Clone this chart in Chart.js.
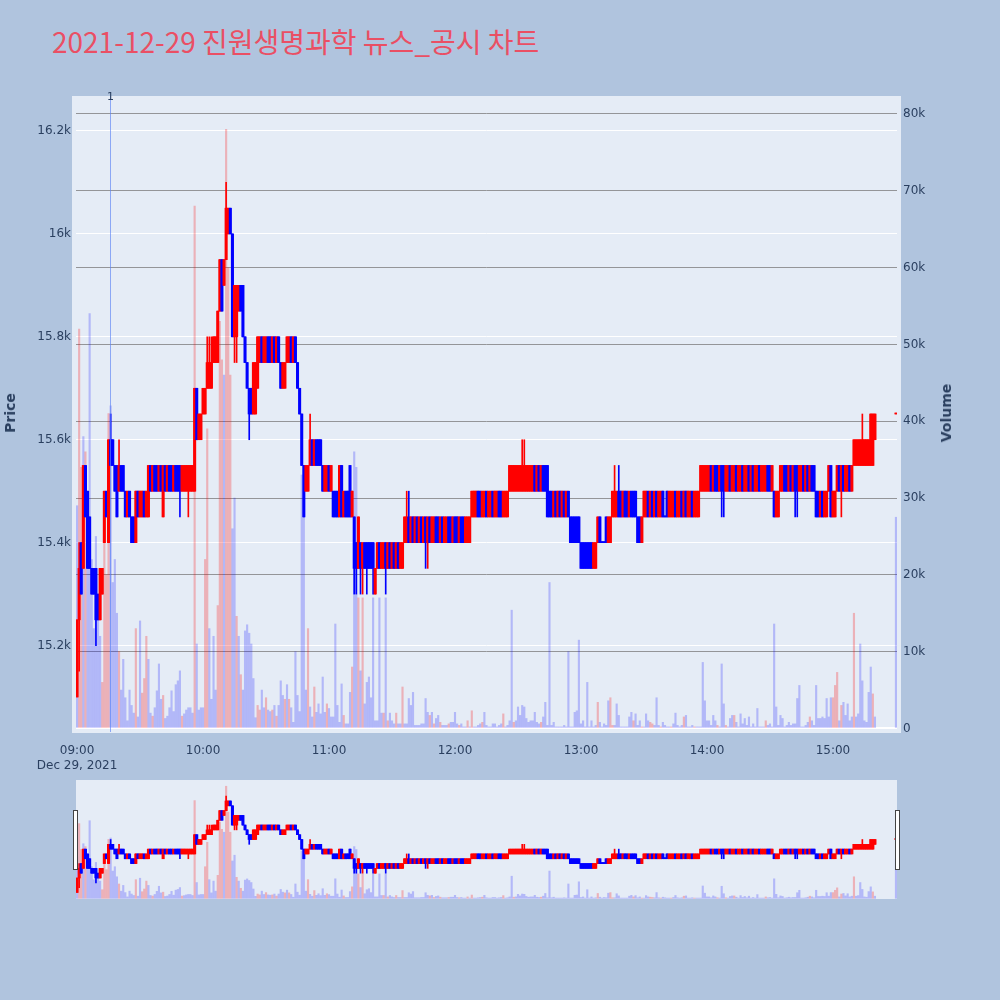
<!DOCTYPE html>
<html>
<head>
<meta charset="utf-8">
<script src="https://cdn.jsdelivr.net/npm/chart.js@4.4.1/dist/chart.umd.min.js"></script>
<style>
  body { margin: 0; width: 1000px; height: 1000px; background: #b0c4de; position: relative; overflow: hidden; }
  #title { position: absolute; left: 52px; top: 27px; font: 28px/28px "Noto Sans CJK KR", sans-serif; color: #ea4f64; white-space: nowrap; }
  #main { position: absolute; left: 0; top: 0; }
  #slider { position: absolute; left: 76px; top: 780px; background: #e5ecf6; }
  .axis-title { position: absolute; font: bold 14px/14px "DejaVu Sans", sans-serif; color: #2a3f5f; transform: translate(-50%, -50%) rotate(-90deg); white-space: nowrap; }
  .handle { position: absolute; top: 810px; width: 3px; height: 58px; background: #fff; border: 1px solid #444; }
</style>
</head>
<body>
<div id="title">2021-12-29 진원생명과학 뉴스_공시 차트</div>
<canvas id="main" width="1000" height="770"></canvas>
<div class="axis-title" style="left:10px; top:413px;">Price</div>
<div class="axis-title" style="left:946px; top:413px;">Volume</div>
<canvas id="slider" width="821" height="119"></canvas>
<div class="handle" style="left:73px;"></div>
<div class="handle" style="left:895px;"></div>
<script>
// 1분봉 (09:00 = 0분 ... 15:30 = 390분)
const opens = [
  15100,15250,15400,15350,15550,15500,15450,15350,15350,15350,
  15300,15250,15300,15400,15500,15400,15600,15600,15550,15550,
  15500,15550,15550,15500,15450,15500,15450,15450,15400,15500,
  15450,15450,15500,15450,15450,15550,15500,15550,15550,15500,
  15550,15450,15550,15500,15550,15550,15500,15550,15550,15550,
  15500,15500,15500,15500,15500,15500,15500,15700,15600,15600,
  15650,15650,15700,15700,15700,15750,15750,15750,15850,15950,
  15900,15950,16000,16050,16000,15800,15800,15850,15900,15900,
  15800,15750,15700,15700,15650,15650,15700,15750,15800,15750,
  15750,15800,15800,15750,15800,15750,15800,15750,15700,15700,
  15750,15750,15800,15750,15800,15750,15700,15650,15550,15500,
  15500,15550,15600,15550,15600,15600,15600,15550,15500,15500,
  15550,15500,15500,15500,15500,15450,15550,15450,15500,15500,
  15550,15450,15450,15400,15350,15400,15350,15400,15400,15400,
  15400,15400,15300,15350,15400,15350,15350,15400,15350,15400,
  15350,15400,15350,15400,15350,15350,15400,15400,15450,15400,
  15450,15400,15450,15400,15450,15400,15450,15400,15450,15400,
  15400,15450,15450,15400,15450,15400,15400,15450,15450,15400,
  15450,15450,15400,15450,15450,15400,15400,15400,15450,15450,
  15450,15500,15500,15450,15450,15500,15450,15450,15500,15450,
  15450,15500,15500,15450,15450,15450,15500,15500,15500,15500,
  15500,15500,15500,15500,15500,15500,15500,15500,15550,15500,
  15550,15500,15550,15550,15550,15500,15500,15450,15500,15450,
  15500,15450,15500,15450,15500,15450,15450,15450,15450,15450,
  15400,15400,15400,15400,15400,15400,15350,15350,15400,15450,
  15400,15400,15450,15400,15400,15450,15450,15450,15500,15500,
  15450,15500,15500,15450,15500,15500,15500,15450,15450,15400,
  15450,15450,15500,15450,15500,15450,15500,15450,15450,15500,
  15450,15500,15450,15450,15450,15500,15450,15450,15500,15450,
  15500,15450,15450,15500,15450,15450,15450,15500,15500,15500,
  15500,15500,15550,15500,15550,15550,15500,15550,15550,15500,
  15500,15550,15500,15500,15550,15500,15500,15550,15500,15500,
  15550,15500,15550,15500,15500,15550,15500,15500,15500,15550,
  15550,15500,15500,15450,15450,15500,15500,15550,15550,15500,
  15550,15500,15550,15550,15500,15500,15550,15500,15550,15500,
  15550,15550,15500,15500,15450,15500,15450,15450,15500,15550,
  15450,15450,15500,15550,15500,15550,15500,15500,15550,15500,
  15550,15550,15550,15550,15550,15550,15550,15550,15550,15550,
  15600,null,null,null,null,null,null,null,null,null,
  15650
];
const closes = [
  15250,15350,15300,15550,15450,15350,15350,15300,15300,15250,
  15250,15350,15350,15500,15450,15600,15550,15550,15500,15450,
  15550,15500,15500,15450,15500,15450,15400,15400,15500,15450,
  15500,15500,15450,15500,15550,15500,15550,15500,15500,15550,
  15500,15550,15500,15550,15500,15500,15550,15500,15500,15500,
  15550,15550,15550,15550,15550,15550,15700,15600,15650,15650,
  15700,15700,15750,15750,15750,15800,15800,15850,15950,15850,
  15950,16050,16050,16000,15800,15900,15900,15900,15850,15800,
  15750,15700,15650,15650,15750,15750,15800,15800,15750,15800,
  15800,15750,15750,15800,15750,15800,15750,15700,15750,15750,
  15800,15800,15750,15800,15750,15700,15650,15550,15450,15550,
  15550,15600,15550,15600,15550,15550,15550,15500,15550,15550,
  15500,15550,15450,15450,15450,15550,15450,15500,15450,15450,
  15450,15500,15350,15350,15450,15350,15400,15350,15350,15350,
  15350,15350,15350,15400,15350,15400,15400,15350,15400,15350,
  15400,15350,15400,15350,15400,15400,15450,15450,15400,15450,
  15400,15450,15400,15450,15400,15450,15400,15450,15400,15450,
  15450,15400,15400,15450,15400,15450,15450,15400,15400,15450,
  15400,15400,15450,15400,15400,15450,15450,15450,15500,15500,
  15500,15450,15450,15500,15500,15450,15500,15500,15450,15500,
  15500,15450,15450,15500,15500,15500,15550,15550,15550,15550,
  15550,15550,15550,15550,15550,15550,15550,15550,15500,15550,
  15500,15550,15500,15500,15450,15450,15450,15500,15450,15500,
  15450,15500,15450,15500,15450,15400,15400,15400,15400,15400,
  15350,15350,15350,15350,15350,15350,15400,15400,15450,15400,
  15400,15400,15400,15450,15450,15500,15500,15500,15450,15450,
  15500,15450,15450,15500,15450,15450,15450,15400,15400,15450,
  15500,15500,15450,15500,15450,15500,15450,15500,15500,15450,
  15450,15450,15500,15500,15500,15450,15500,15500,15450,15500,
  15450,15500,15500,15450,15500,15500,15500,15550,15550,15550,
  15550,15550,15500,15550,15500,15500,15550,15500,15500,15550,
  15550,15500,15550,15550,15500,15550,15550,15500,15550,15550,
  15500,15550,15500,15550,15550,15500,15550,15550,15550,15500,
  15500,15550,15450,15500,15500,15550,15550,15500,15500,15550,
  15500,15550,15500,15500,15550,15550,15500,15550,15500,15550,
  15500,15500,15450,15450,15500,15450,15500,15500,15550,15450,
  15500,15500,15550,15500,15550,15500,15550,15550,15500,15550,
  15600,15600,15600,15600,15600,15600,15600,15600,15650,15650,
  15650,null,null,null,null,null,null,null,null,null,
  15650
];
// 꼬리 (분, 가격)
const highWicks = [[1,15400],[16,15650],[20,15600],[62,15800],[63,15800],[64,15800],[71,16100],[111,15650],
  [157,15500],[158,15500],[212,15600],[213,15600],[256,15550],[258,15550],[374,15650]];
const lowWicks = [[1,15150],[9,15200],[49,15450],[53,15450],[75,15750],[76,15750],[82,15600],[132,15300],
  [133,15300],[135,15300],[136,15300],[138,15300],[141,15300],[147,15300],[166,15350],[167,15350],
  [307,15450],[308,15450],[342,15450],[343,15450],[364,15450]];
// 거래량 (천주)
const volumeK = [
  29,52,34,38,36,24,54,22,13,25,
  17,12,6,28,20,41,42,19,22,15,
  10,5,9,4,1,5,3,2,13,1.5,
  14,4.6,6.5,12,9,2,1.6,2.7,4.9,8.4,
  3.8,4.3,1.3,1.6,2.7,4.9,2.2,5.7,6.2,7.5,
  1.6,1.9,2.4,2.7,2.7,2,68,11,2.4,2.7,
  2.7,22,39,13,3.8,12,5,16,53,48,
  46,78,60,46,26,30,14.6,12,7,5,
  12.7,13.5,12.4,11,6.5,1.4,3,2.4,5,2.7,
  4,2.4,2.2,2.4,3,1.6,3,6.2,4.3,3.8,
  5.7,3.8,2.7,0.8,10,4.3,2.2,33,30,5,
  13,2.8,1.5,5.4,2.1,3.2,1.9,6.7,2.1,3.2,
  2.6,1.5,1.5,13.6,3,0.8,5.8,1.7,0.6,0.6,
  4.7,8,36,34,17,7.5,17,3.2,6,6.7,
  4,17,1,1,17,2,2,17,1,2,
  1,0.6,2,0.6,0.6,5.4,0.6,0.6,3.9,3,
  4.7,0.4,0.4,0.4,0.6,0.6,3.9,2.1,1.7,2.1,
  0.6,1.3,1.7,0.8,0.4,0.4,0.4,0.6,0.8,0.8,
  2.1,0.6,0.4,0.6,0.2,0.2,1,0.2,2.3,0.2,
  0.2,0.4,0.6,0.8,2.1,0.4,0.2,0.2,0.6,0.6,
  0.2,0.4,0.6,1.9,0.2,0.4,1,15.4,0.8,1,
  2.8,1.7,3,2.8,1.3,0.8,1,1,2.1,0.8,
  0.6,0.8,1.5,3.4,0.4,19,0.4,0.8,0.2,0.2,
  0.2,0.2,0.4,0.2,10,0.2,0.2,2.1,2.3,11.5,
  0.6,1,0.2,6,0.2,1,0.2,0.4,3.4,0.8,
  0.2,0.6,0.4,3.6,4,0.4,0.4,3.2,1.7,0.2,
  0.2,0.2,0.2,1.5,2.1,1,1.9,0.4,1,0.2,
  0.2,1.9,1,0.8,0.6,0.4,4,0.4,0.2,0.8,
  0.4,0.2,0.2,0.2,0.6,2,0.4,0.2,0.4,1.5,
  1.7,0.2,0.2,0.4,0.2,0.2,0.2,0.2,8.6,3.6,
  1,1,0.4,1.7,1,0.4,0.2,8.4,3.2,0.4,
  0.2,1.3,1.7,1.7,0.8,0.2,1.9,0.6,1.3,0.4,
  1.5,0.2,0.6,0.2,2.6,0.2,0.2,0.2,1,0.4,
  0.6,0.2,13.6,2.8,0.4,1.7,1.3,0.2,0.4,0.8,
  0.4,0.6,0.6,3.9,5.6,0.2,0.2,0.4,0.8,1.5,
  1,0.4,5.6,1.3,1.3,1.5,1.3,3.9,1.5,4,
  4,5.6,7.3,1,3,3.4,1.7,3.2,1,1.5,
  15,1.5,1.9,11,6.2,1,0.8,4.7,8,4.5,
  1.5,null,null,null,null,null,null,null,null,null,
  27.5
];
// 붉은색 거래량 막대가 보이는 분
const redVolMinutes = [1,2,4,12,13,14,15,20,28,31,32,33,36,41,50,56,61,62,67,68,69,71,72,73,76,78,
  86,87,90,93,95,99,101,110,113,119,127,131,134,136,146,148,152,155,168,170,173,177,182,186,188,
  193,203,208,221,248,254,255,265,269,273,274,278,283,289,294,305,309,313,328,349,360,361,362,
  364,370,379];
const tickMinutes = [0, 60, 120, 180, 240, 300, 360];
const tickLabels = ['09:00', '10:00', '11:00', '12:00', '13:00', '14:00', '15:00'];
const dateLabel = 'Dec 29, 2021';
const priceTicks = [15200, 15400, 15600, 15800, 16000, 16200];
const volumeTicks = [0, 10000, 20000, 30000, 40000, 50000, 60000, 70000, 80000];
const newsMinutes = [15.7];
const newsLabels = ['1'];

const priceMin = 15032, priceMax = 16268;
const volMin = -460, volMax = 82340;

// 데이터셋 만들기
const idx = opens.map((o, i) => i).filter(i => opens[i] != null);
const redVol = new Set(redVolMinutes);
function hiOf(i) {
  let h = Math.max(opens[i], closes[i]);
  highWicks.forEach(w => { if (w[0] === i) h = Math.max(h, w[1]); });
  return h;
}
function loOf(i) {
  let l = Math.min(opens[i], closes[i]);
  lowWicks.forEach(w => { if (w[0] === i) l = Math.min(l, w[1]); });
  return l;
}
const candleColors = idx.map(i => closes[i] > opens[i] || i === 390 ? '#ff0000' : '#0000ff');
const volColors = idx.map(i => redVol.has(i) ? 'rgba(255,0,0,0.25)' : 'rgba(0,0,255,0.22)');
const bodyData = idx.map(i => ({ x: i, y: [opens[i], closes[i]] }));
const wickData = idx.map(i => ({ x: i, y: [loOf(i), hiOf(i)] }));
const volData = idx.map(i => ({ x: i, y: volumeK[i] * 1000 }));

function makeDatasets() {
  return [
    { type: 'bar', data: volData, yAxisID: 'yv', backgroundColor: volColors, barThickness: 1.5, grouped: false, order: 3 },
    { type: 'bar', data: wickData, yAxisID: 'y', backgroundColor: candleColors, barThickness: 1, grouped: false, order: 2, minBarLength: 1 },
    { type: 'bar', data: bodyData, yAxisID: 'y', backgroundColor: candleColors, barThickness: 2.4, grouped: false, order: 1, minBarLength: 1 }
  ];
}

const tickFont = { family: 'DejaVu Sans', size: 12 };

const plotBg = {
  id: 'plotBg',
  beforeDraw(chart) {
    const a = chart.chartArea, ctx = chart.ctx;
    ctx.save();
    ctx.fillStyle = '#e5ecf6';
    ctx.fillRect(a.left - 4, a.top, a.right - a.left + 8, a.bottom - a.top + 1);
    ctx.restore();
  }
};

const newsLines = {
  id: 'newsLines',
  afterDatasetsDraw(chart) {
    const a = chart.chartArea, ctx = chart.ctx, xs = chart.scales.x;
    ctx.save();
    newsMinutes.forEach((m, k) => {
      const px = Math.round(xs.getPixelForValue(m)) + 0.5;
      ctx.strokeStyle = 'rgba(90,130,245,0.65)';
      ctx.lineWidth = 1;
      ctx.beginPath();
      ctx.moveTo(px, a.top);
      ctx.lineTo(px, a.bottom);
      ctx.stroke();
      ctx.fillStyle = '#2a3f5f';
      ctx.font = '11px "DejaVu Sans"';
      ctx.textAlign = 'center';
      ctx.textBaseline = 'middle';
      ctx.fillText(newsLabels[k], px, a.top + 1);
    });
    ctx.restore();
  }
};

new Chart(document.getElementById('main'), {
  data: { datasets: makeDatasets() },
  options: {
    responsive: false,
    animation: false,
    devicePixelRatio: 1,
    layout: { padding: { top: 96, left: 0, right: 0, bottom: 0 } },
    plugins: { legend: { display: false }, tooltip: { enabled: false } },
    scales: {
      x: {
        type: 'linear', min: -0.5, max: 390.5, offset: false,
        grid: { display: false }, border: { display: false },
        afterBuildTicks: s => { s.ticks = tickMinutes.map(v => ({ value: v })); },
        afterFit: s => { s.height = 38; },
        ticks: {
          color: '#2a3f5f', font: tickFont, padding: 4, maxRotation: 0, autoSkip: false,
          callback: (v, k) => k === 0 ? [tickLabels[0], dateLabel] : tickLabels[k]
        }
      },
      y: {
        type: 'linear', position: 'left', min: priceMin, max: priceMax,
        grid: { color: '#ffffff', lineWidth: 1, drawTicks: false }, border: { display: false },
        afterBuildTicks: s => { s.ticks = priceTicks.map(v => ({ value: v })); },
        afterFit: s => { s.width = 76; },
        ticks: { color: '#2a3f5f', font: tickFont, padding: 5, callback: v => (v / 1000) + 'k' }
      },
      yv: {
        type: 'linear', position: 'right', min: volMin, max: volMax,
        grid: {
          color: c => c.tick && c.tick.value === 0 ? '#ffffff' : 'rgba(120,120,120,0.75)',
          lineWidth: c => c.tick && c.tick.value === 0 ? 2 : 1,
          drawTicks: false
        },
        border: { display: false },
        afterBuildTicks: s => { s.ticks = volumeTicks.map(v => ({ value: v })); },
        afterFit: s => { s.width = 103; },
        ticks: { color: '#2a3f5f', font: tickFont, padding: 6, callback: v => v === 0 ? '0' : (v / 1000) + 'k' }
      }
    }
  },
  plugins: [plotBg, newsLines]
});

// 하단 레인지 슬라이더 (축소판)
new Chart(document.getElementById('slider'), {
  data: { datasets: makeDatasets() },
  options: {
    responsive: false,
    animation: false,
    devicePixelRatio: 1,
    layout: { padding: 0 },
    plugins: { legend: { display: false }, tooltip: { enabled: false } },
    scales: {
      x: { type: 'linear', min: -0.5, max: 390.5, offset: false, display: false },
      y: { type: 'linear', min: priceMin, max: priceMax, display: false },
      yv: { type: 'linear', min: volMin, max: volMax, display: false }
    }
  }
});
</script>
</body>
</html>
